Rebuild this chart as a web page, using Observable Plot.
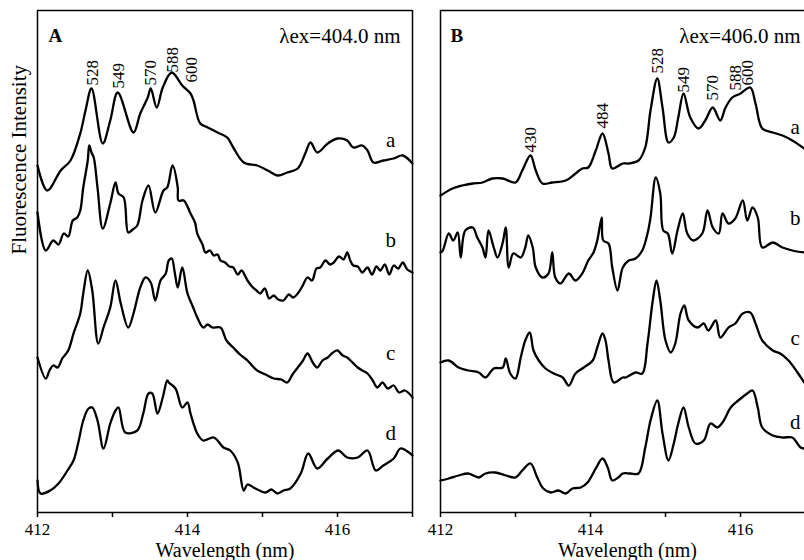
<!DOCTYPE html>
<html>
<head>
<meta charset="utf-8">
<script src="https://cdn.jsdelivr.net/npm/d3@7"></script>
<script src="https://cdn.jsdelivr.net/npm/@observablehq/plot@0.6"></script>
<style>
  html, body { margin: 0; padding: 0; background: #fff; overflow: hidden; }
  #chart { position: relative; width: 804px; height: 560px; overflow: hidden; background: #fff; }
  #chart > div, #chart > svg { position: absolute; top: 0; }
</style>
</head>
<body>
<div id="chart"></div>
<script>
// ---------- Data (wavelength in nm, fluorescence intensity in arbitrary units) ----------
// Panel A, λex = 404.0 nm
const A_a = [[412.00,347],[412.13,322],[412.31,342],[412.44,352],[412.57,379],[412.64,402],[412.72,424],[412.87,369],[412.97,392],[413.07,420],[413.28,380],[413.37,399],[413.47,415],[413.51,424],[413.59,405],[413.67,425],[413.79,440],[413.93,427],[414.04,419],[414.08,412],[414.17,389],[414.27,385],[414.40,380],[414.53,375],[414.61,365],[414.75,350],[414.93,347],[415.07,342],[415.20,337],[415.33,340],[415.47,344],[415.57,359],[415.64,370],[415.73,360],[415.87,369],[416.00,374],[416.13,372],[416.21,365],[416.33,367],[416.40,362],[416.48,350],[416.61,352],[416.75,354],[416.87,357],[417.00,349]];
const A_b = [[412.00,300],[412.11,262],[412.21,272],[412.28,268],[412.35,279],[412.41,276],[412.47,292],[412.53,295],[412.57,302],[412.61,325],[412.67,352],[412.69,367],[412.72,360],[412.75,355],[412.80,325],[412.87,284],[412.97,309],[413.04,330],[413.08,319],[413.15,315],[413.21,280],[413.27,283],[413.33,287],[413.40,312],[413.48,327],[413.57,300],[413.68,322],[413.73,325],[413.80,347],[413.87,325],[413.88,312],[413.95,312],[414.04,299],[414.10,290],[414.13,279],[414.20,268],[414.24,260],[414.30,262],[414.35,257],[414.40,258],[414.44,252],[414.50,250],[414.56,246],[414.61,245],[414.67,238],[414.72,242],[414.80,232],[414.86,226],[414.92,222],[414.97,219],[415.03,224],[415.09,214],[415.15,217],[415.21,213],[415.28,212],[415.35,218],[415.41,215],[415.47,219],[415.53,226],[415.60,235],[415.66,232],[415.72,244],[415.77,245],[415.84,252],[415.90,248],[415.95,250],[416.02,256],[416.08,253],[416.13,260],[416.17,252],[416.21,247],[416.27,246],[416.33,240],[416.40,245],[416.46,238],[416.52,246],[416.57,242],[416.63,248],[416.69,238],[416.75,247],[416.81,244],[416.87,250],[416.93,243],[417.00,240]];
const A_c = [[412.00,155],[412.11,134],[412.16,142],[412.21,147],[412.27,145],[412.33,154],[412.41,162],[412.48,179],[412.57,199],[412.61,219],[412.67,242],[412.73,222],[412.81,169],[412.88,185],[412.97,205],[413.04,232],[413.11,209],[413.21,185],[413.28,199],[413.37,225],[413.44,235],[413.51,230],[413.57,212],[413.64,232],[413.71,239],[413.75,252],[413.79,254],[413.83,240],[413.87,225],[413.93,245],[414.00,219],[414.07,206],[414.13,195],[414.21,185],[414.27,188],[414.33,185],[414.44,185],[414.52,172],[414.61,165],[414.70,158],[414.80,152],[414.86,147],[414.93,142],[415.04,138],[415.15,134],[415.25,133],[415.33,130],[415.40,138],[415.47,145],[415.54,152],[415.60,159],[415.67,150],[415.73,145],[415.80,152],[415.87,155],[415.94,160],[416.00,162],[416.07,157],[416.13,155],[416.20,150],[416.27,145],[416.33,142],[416.40,139],[416.47,132],[416.53,125],[416.60,130],[416.67,124],[416.75,127],[416.82,120],[416.90,122],[417.00,115]];
const A_d = [[412.00,32],[412.04,19],[412.17,22],[412.28,29],[412.40,42],[412.48,52],[412.55,72],[412.61,92],[412.68,104],[412.73,105],[412.80,92],[412.88,64],[412.97,89],[413.04,102],[413.08,105],[413.17,80],[413.33,82],[413.41,99],[413.48,119],[413.53,119],[413.60,99],[413.67,115],[413.73,132],[413.75,130],[413.84,124],[413.93,105],[414.00,110],[414.04,99],[414.13,79],[414.21,72],[414.35,75],[414.48,65],[414.57,62],[414.67,50],[414.75,22],[414.80,28],[414.88,25],[414.96,22],[415.04,20],[415.12,23],[415.20,19],[415.28,22],[415.37,24],[415.51,39],[415.61,59],[415.73,44],[415.87,54],[416.01,62],[416.13,55],[416.27,55],[416.40,62],[416.51,42],[416.61,47],[416.75,54],[416.84,64],[416.97,59],[417.00,57]];

// Panel B, λex = 406.0 nm
const B_a = [[412.00,317],[412.16,324],[412.29,327],[412.43,329],[412.56,330],[412.69,334],[412.83,334],[413.00,330],[413.09,342],[413.20,357],[413.27,342],[413.36,329],[413.49,330],[413.67,332],[413.80,339],[413.89,344],[413.97,345],[414.07,362],[414.16,379],[414.24,359],[414.29,344],[414.43,349],[414.51,349],[414.64,352],[414.73,365],[414.80,402],[414.89,434],[414.96,405],[415.04,370],[415.11,375],[415.17,395],[415.24,419],[415.33,395],[415.44,384],[415.53,392],[415.63,405],[415.73,392],[415.80,405],[415.89,415],[416.00,419],[416.13,425],[416.20,409],[416.29,384],[416.43,380],[416.56,377],[416.69,372],[416.85,364]];
const B_b = [[412.00,260],[412.03,262],[412.11,279],[412.17,272],[412.23,280],[412.27,255],[412.33,282],[412.43,285],[412.49,275],[412.56,265],[412.60,255],[412.64,282],[412.71,265],[412.76,255],[412.83,270],[412.87,285],[412.91,245],[412.97,259],[413.07,255],[413.13,265],[413.17,277],[413.23,265],[413.27,245],[413.36,235],[413.44,239],[413.49,260],[413.53,235],[413.60,229],[413.71,239],[413.80,232],[413.89,239],[413.97,252],[414.04,260],[414.09,272],[414.15,295],[414.17,272],[414.24,269],[414.29,245],[414.36,222],[414.43,245],[414.51,252],[414.60,254],[414.69,262],[414.76,279],[414.80,295],[414.87,335],[414.93,319],[414.97,282],[415.03,279],[415.09,259],[415.16,282],[415.23,299],[415.29,279],[415.37,272],[415.49,279],[415.56,302],[415.63,285],[415.71,279],[415.76,299],[415.84,289],[415.93,294],[416.03,312],[416.09,292],[416.16,305],[416.23,295],[416.29,265],[416.43,270],[416.56,265],[416.69,262],[416.85,260]];
const B_c = [[412.00,150],[412.11,152],[412.24,145],[412.37,142],[412.51,140],[412.60,135],[412.71,144],[412.83,145],[412.87,154],[412.93,139],[413.00,134],[413.07,155],[413.13,172],[413.19,180],[413.24,162],[413.31,152],[413.40,144],[413.51,139],[413.63,135],[413.71,127],[413.80,139],[413.91,145],[414.03,152],[414.09,165],[414.16,179],[414.20,172],[414.24,152],[414.31,130],[414.43,135],[414.47,135],[414.60,140],[414.69,139],[414.76,169],[414.83,212],[414.88,232],[414.93,212],[415.00,172],[415.07,160],[415.13,169],[415.20,199],[415.25,207],[415.31,192],[415.43,185],[415.51,189],[415.57,182],[415.67,192],[415.73,175],[415.84,185],[415.93,189],[416.03,199],[416.13,200],[416.20,189],[416.29,172],[416.43,162],[416.53,159],[416.64,152],[416.76,140],[416.85,130]];
const B_d = [[412.00,32],[412.11,34],[412.24,37],[412.37,39],[412.51,35],[412.60,39],[412.73,40],[412.87,37],[413.00,35],[413.09,42],[413.20,49],[413.29,35],[413.37,24],[413.47,20],[413.57,22],[413.67,19],[413.76,24],[413.87,25],[413.96,30],[414.07,44],[414.16,54],[414.23,45],[414.29,32],[414.37,35],[414.43,39],[414.53,39],[414.64,39],[414.73,65],[414.80,92],[414.89,112],[414.96,79],[415.04,52],[415.11,69],[415.17,89],[415.24,105],[415.31,85],[415.40,69],[415.51,72],[415.60,89],[415.69,85],[415.76,90],[415.87,105],[415.97,112],[416.09,119],[416.16,122],[416.23,105],[416.29,85],[416.43,77],[416.56,75],[416.69,75],[416.80,65],[416.85,64]];

// Peak labels (wavelength position, label base height, text)
const peaksA_x = [412.73, 413.08, 413.51, 413.80, 414.05];
const peaksA_y = [427, 424, 427, 440, 430];
const peaksA_t = ["528", "549", "570", "588", "600"];
const peaksB_x = [413.20, 414.16, 414.89, 415.24, 415.63, 415.93, 416.09];
const peaksB_y = [360, 384, 439, 420, 412, 422, 427];
const peaksB_t = ["430", "484", "528", "549", "570", "588", "600"];

// Trace letters
const traceNames = ["a", "b", "c", "d"];
const lettersA_y = [372, 272, 159, 79];
const lettersB_y = [385, 294, 174, 90];

const tickValues = [412, 413, 414, 415, 416, 417];
const tickLabelValues = [412, 414, 416];

// ---------- Drawing ----------
const FONT = "'Liberation Serif', 'Times New Roman', serif";

function toRows(series) {
  const rows = [];
  series.forEach(([name, pts]) => pts.forEach(([x, y]) => rows.push({trace: name, x, y})));
  return rows;
}

function panel(opts) {
  const rows = toRows(opts.traces);
  const peaks = opts.peaks[0].map((x, i) => ({x, y: opts.peaks[1][i], t: opts.peaks[2][i]}));
  const letters = traceNames.map((t, i) => ({t, y: opts.letterY[i], x: opts.letterX}));
  const [x0, x1] = opts.domain;
  const ticks = tickValues.filter(t => t >= x0 && t <= x1 + 1e-9);
  const marks = [
    Plot.line(rows, {x: "x", y: "y", z: "trace", stroke: "black", strokeWidth: 2.3, strokeLinejoin: "round", curve: "catmull-rom"}),
    Plot.text(peaks, {x: "x", y: "y", text: "t", rotate: -90, textAnchor: "start", fontSize: 17, fill: "black"}),
    Plot.text(letters, {x: "x", y: "y", text: "t", fontSize: 21, fill: "black"}),
    Plot.text([opts.tag], {frameAnchor: "top-left", dx: opts.tagDx, dy: 18, textAnchor: "start", fontSize: 19, fontWeight: "bold", fill: "black"}),
    Plot.text([opts.excitation], {frameAnchor: "top-right", dx: opts.excDx, dy: 18, textAnchor: "end", fontSize: 21, fill: "black"}),
    Plot.text(tickLabelValues, {x: d => d, frameAnchor: "bottom", dy: 22, lineAnchor: "bottom", fontSize: 17, fill: "black"}),
    Plot.text(["Wavelength (nm)"], {frameAnchor: "bottom", dy: 44, dx: opts.labelDx, lineAnchor: "bottom", fontSize: 20, fill: "black"}),
    Plot.ruleX([x0], {stroke: "black", strokeWidth: 1.5}),
    Plot.ruleY([0, 502], {stroke: "black", strokeWidth: 1.5}),
    Plot.axisX({ticks, tickFormat: () => "", tickSize: 5, stroke: "black", strokeWidth: 1.5, label: null})
  ];
  if (opts.rightBorder) marks.push(Plot.ruleX([x1], {stroke: "black", strokeWidth: 1.5}));
  if (opts.yLabel) marks.push(Plot.text([opts.yLabel], {frameAnchor: "left", dx: -18, dy: -7, rotate: -90, fontSize: 21, fill: "black"}));
  return Plot.plot({
    width: opts.width,
    height: 560,
    marginTop: 10,
    marginBottom: 48,
    marginLeft: opts.marginLeft,
    marginRight: opts.marginRight,
    x: {domain: opts.domain, label: null},
    y: {domain: [0, 502], axis: null},
    style: {fontFamily: FONT, fontSize: "19px", color: "black", background: "transparent", overflow: "visible"},
    marks
  });
}

const chart = document.getElementById("chart");

const svgA = panel({
  traces: [["a", A_a], ["b", A_b], ["c", A_c], ["d", A_d]],
  peaks: [peaksA_x, peaksA_y, peaksA_t],
  letterX: 416.71, letterY: lettersA_y,
  domain: [412, 417],
  width: 420, marginLeft: 37, marginRight: 8,
  tag: "A", tagDx: 11, excitation: "λex=404.0 nm", excDx: -12,
  labelDx: 0, rightBorder: true, yLabel: "Fluorescence Intensity"
});
svgA.style.left = "0px";
chart.appendChild(svgA);

const svgB = panel({
  traces: [["a", B_a], ["b", B_b], ["c", B_c], ["d", B_d]],
  peaks: [peaksB_x, peaksB_y, peaksB_t],
  letterX: 416.73, letterY: lettersB_y,
  domain: [412, 416.853],
  width: 404, marginLeft: 40, marginRight: 0,
  tag: "B", tagDx: 10, excitation: "λex=406.0 nm", excDx: -4,
  labelDx: 5, rightBorder: false, yLabel: null
});
svgB.style.left = "400px";
chart.appendChild(svgB);
</script>
</body>
</html>
